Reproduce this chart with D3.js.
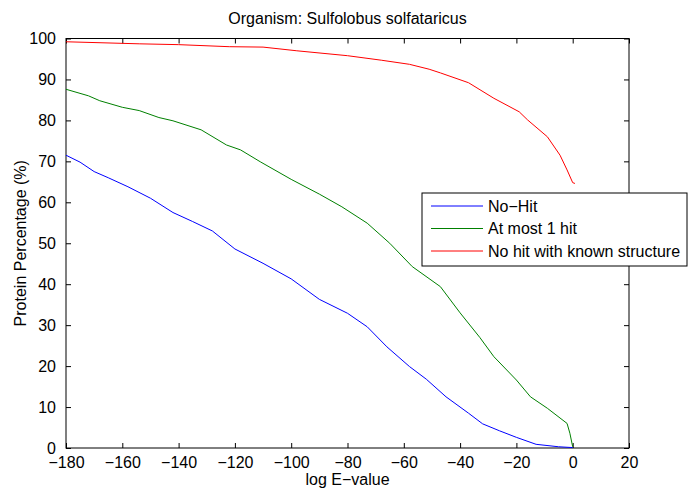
<!DOCTYPE html>
<html>
  <head>
    <script src="https://d3js.org/d3.v7.min.js"></script>
    <style>
      body { margin: 0; background: #fff; }
      text { font-family: "Liberation Sans", Arial, sans-serif; fill: #000; }
    </style>
  </head>
  <body>
    <div id="chart"></div>
    <script>
      // values
      const noHitX = [-180, -175, -170, -165, -158, -150, -142, -135, -128, -120, -110, -100, -90, -80, -73, -66, -58, -52, -45, -37, -32, -26, -20, -13, -5, 0];
      const noHitY = [71.5, 69.8, 67.5, 66.0, 63.8, 61.0, 57.5, 55.3, 53.0, 48.6, 45.1, 41.3, 36.3, 32.9, 29.6, 24.7, 19.9, 16.8, 12.5, 8.5, 5.9, 4.2, 2.6, 0.9, 0.3, 0.1];

      const oneHitX = [-180, -172, -168, -160, -154, -147, -142, -132, -123, -118, -111, -100, -90, -82, -73, -65, -57, -47, -40, -33, -28, -20, -15, -9, -2, -1, 0];
      const oneHitY = [87.6, 86.0, 84.8, 83.2, 82.4, 80.7, 79.9, 77.7, 74.0, 72.8, 69.9, 65.6, 62.0, 58.9, 54.9, 50.0, 44.3, 39.4, 33.0, 27.0, 22.3, 16.6, 12.5, 9.7, 6.0, 3.6, 0.3];

      const structX = [-180, -154, -140, -122, -110, -98, -80, -68, -58, -51, -47, -37, -28, -19, -16, -9, -4.5, -2, 0, 0.8];
      const structY = [99.2, 98.7, 98.5, 98.0, 97.9, 97.0, 95.8, 94.7, 93.7, 92.5, 91.6, 89.2, 85.4, 82.1, 80.1, 76.0, 71.5, 67.9, 64.8, 64.6];

      const seriesNames = ["No\u2212Hit", "At most 1 hit", "No hit with known structure"];
      const seriesColors = ["#0000ff", "#008000", "#ff0000"];
      const xTicks = [-180, -160, -140, -120, -100, -80, -60, -40, -20, 0, 20];
      const yTicks = [0, 10, 20, 30, 40, 50, 60, 70, 80, 90, 100];

      const W = 688, H = 490;
      const margin = { top: 38.5, right: 59, bottom: 42, left: 66 };
      const width = W - margin.left - margin.right,
        height = H - margin.top - margin.bottom;

      const svg = d3
        .select("#chart")
        .append("svg")
        .attr("width", W)
        .attr("height", H);

      const g = svg.append("g").attr("transform", `translate(${margin.left},${margin.top})`);

      const x = d3.scaleLinear().domain([-180, 20]).range([0, width]);
      const y = d3.scaleLinear().domain([0, 100]).range([height, 0]);

      const fmt = (d) => (d < 0 ? "\u2212" + Math.abs(d) : String(d));

      // box and inward ticks
      g.append("g")
        .attr("transform", `translate(0,${height})`)
        .call(d3.axisBottom(x).tickValues(xTicks).tickSizeInner(-5).tickSizeOuter(0).tickPadding(9).tickFormat(fmt))
        .call((a) => a.select(".domain").remove());
      g.append("g")
        .call(d3.axisTop(x).tickValues(xTicks).tickSizeInner(-5).tickSizeOuter(0).tickFormat(""))
        .call((a) => a.select(".domain").remove());
      g.append("g")
        .call(d3.axisLeft(y).tickValues(yTicks).tickSizeInner(-5).tickSizeOuter(0).tickPadding(10))
        .call((a) => a.select(".domain").remove());
      g.append("g")
        .attr("transform", `translate(${width},0)`)
        .call(d3.axisRight(y).tickValues(yTicks).tickSizeInner(-5).tickSizeOuter(0).tickFormat(""))
        .call((a) => a.select(".domain").remove());

      g.selectAll(".tick text")
        .style("font-family", '"Liberation Sans", Arial, sans-serif')
        .style("font-size", "16px")
        .attr("fill", "#000");
      g.selectAll(".tick line").attr("stroke", "#000");

      g.append("rect")
        .attr("width", width)
        .attr("height", height)
        .attr("fill", "none")
        .attr("stroke", "#000")
        .attr("stroke-width", 1);

      // lines
      const series = [
        { xs: noHitX, ys: noHitY },
        { xs: oneHitX, ys: oneHitY },
        { xs: structX, ys: structY },
      ];
      const line = d3
        .line()
        .x((d) => x(d[0]))
        .y((d) => y(d[1]));
      series.forEach((s, i) => {
        g.append("path")
          .datum(d3.zip(s.xs, s.ys))
          .attr("fill", "none")
          .attr("stroke", seriesColors[i])
          .attr("stroke-width", 1)
          .attr("d", line);
      });

      // title and axis labels
      svg.append("text")
        .attr("x", margin.left + width / 2)
        .attr("y", 24)
        .attr("text-anchor", "middle")
        .style("font-size", "16px")
        .text("Organism: Sulfolobus solfataricus");

      svg.append("text")
        .attr("x", margin.left + width / 2)
        .attr("y", 485)
        .attr("text-anchor", "middle")
        .style("font-size", "16px")
        .text("log E\u2212value");

      svg.append("text")
        .attr("transform", `translate(26,${margin.top + height / 2}) rotate(-90)`)
        .attr("text-anchor", "middle")
        .style("font-size", "16px")
        .text("Protein Percentage (%)");

      // legend
      const legend = svg.append("g").attr("transform", "translate(422,193)");
      legend.append("rect")
        .attr("width", 265)
        .attr("height", 73)
        .attr("fill", "#fff")
        .attr("stroke", "#000")
        .attr("stroke-width", 1);
      seriesNames.forEach((name, i) => {
        const ly = 13 + i * 22.5;
        legend.append("line")
          .attr("x1", 9)
          .attr("x2", 61)
          .attr("y1", ly)
          .attr("y2", ly)
          .attr("stroke", seriesColors[i])
          .attr("stroke-width", 1);
        legend.append("text")
          .attr("x", 66)
          .attr("y", ly + 5.5)
          .style("font-size", "16px")
          .text(name);
      });
    </script>
  </body>
</html>
